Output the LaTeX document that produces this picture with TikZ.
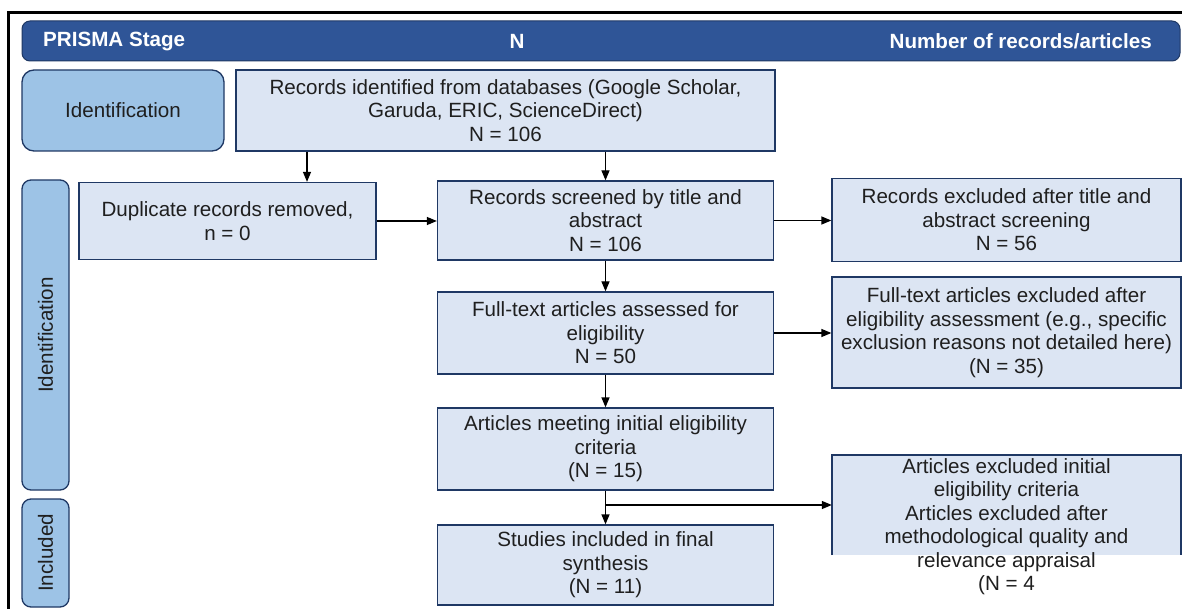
\documentclass[tikz,border=0pt]{standalone}
\usepackage{fontspec}
\setmainfont{Liberation Sans}
\usetikzlibrary{arrows.meta,positioning,calc}
\definecolor{hdrblue}{HTML}{2F5597}
\definecolor{stageblue}{HTML}{9DC3E6}
\definecolor{boxblue}{HTML}{DCE5F3}
\definecolor{navy}{HTML}{1F3864}
\newcommand{\fs}{\fontsize{20.6}{23.5}\selectfont}
\tikzset{
  stepbox/.style={draw=navy, line width=1.3pt, fill=boxblue, align=center, font=\fs, text=black!88, inner sep=0pt},
  stagebox/.style={draw=navy, line width=1.3pt, fill=stageblue, align=center, font=\fs, text=black!88, inner sep=0pt},
  hdrbar/.style={draw=navy, line width=1pt, fill=hdrblue, rounded corners=8pt, inner sep=0pt},
  hdrtext/.style={font=\fs\bfseries, text=white, inner sep=0pt},
  arr/.style={-{Triangle[length=10pt,width=8pt]}, line width=1.3pt},
}

\begin{document}
\begin{tikzpicture}[x=1pt,y=-1pt]
				%%%%% START %%%%%
				\def\colM{605.5}
				\def\colR{1006.5}
				\def\wM{336pt}
				\def\wR{349pt}
				\useasboundingbox (0,0) rectangle (1182,609);
				\fill[white] (0,0) rectangle (1182,609);
				
				% frame
				\draw[line width=3pt] (8,609) -- (8,13) -- (1182,13);
				
				% header bar
				\node[hdrbar, minimum width=1158pt, minimum height=40pt] (head) at (601,41) {};
				\node[hdrtext, anchor=west] (hstage) at (43,41) {PRISMA Stage};
				\node[hdrtext] (hn) at (517,41) {N};
				\node[hdrtext, anchor=east] (hnum) at (1152,41) {Number of records/articles};
				
				% stage labels
				\node[stagebox, rounded corners=12pt, minimum width=202pt, minimum height=81pt] (ident) at (123,110.5) {Identification};
				\node[stagebox, rounded corners=9pt, minimum width=47pt, minimum height=310pt] (sideid) at (45.5,335) {};
				\node[font=\fs, text=black!88, rotate=90] (sideidt) at (sideid.center) {Identification};
				\node[stagebox, rounded corners=9pt, minimum width=47pt, minimum height=108pt] (sideinc) at (45.5,553) {};
				\node[font=\fs, text=black!88, rotate=90] (sideinct) at (sideinc.center) {Included};
				
				% main column
				\node[stepbox, minimum width=539pt, minimum height=81pt] (rec) at (505.5,110.5) {Records identified from databases (Google Scholar,\\ Garuda, ERIC, ScienceDirect)\\ N = 106};
				\node[stepbox, minimum width=297pt, minimum height=77pt] (dup) at (227.5,221) {Duplicate records removed,\\ n = 0};
				\node[stepbox, minimum width=\wM, minimum height=79pt] (scr) at (\colM,220.5) {Records screened by title and\\ abstract\\ N = 106};
				\node[stepbox, minimum width=\wM, minimum height=82pt] (full) at (\colM,333) {Full-text articles assessed for\\ eligibility\\ N = 50};
				\node[stepbox, minimum width=\wM, minimum height=82pt] (meet) at (\colM,449) {Articles meeting initial eligibility\\ criteria\\ (N = 15)};
				\node[stepbox, minimum width=\wM, minimum height=80pt] (stud) at (\colM,565) {Studies included in final\\ synthesis\\ (N = 11)};
				
				% exclusions
				\node[stepbox, minimum width=\wR, minimum height=83pt] (exc1) at (\colR,220) {Records excluded after title and\\ abstract screening\\ N = 56};
				\node[stepbox, minimum width=\wR, minimum height=111pt] (exc2) at (\colR,332.5) {Full-text articles excluded after\\ eligibility assessment (e.g., specific\\ exclusion reasons not detailed here)\\ (N = 35)};
				\fill[boxblue] (832,455) rectangle (1181,555);
				\draw[navy, line width=1.3pt] (832,555) -- (832,455) -- (1181,455) -- (1181,555);
				\node[align=center, font=\fs, text=black!88, inner sep=0pt, minimum width=\wR] (exc3) at (\colR,526.5) {Articles excluded initial\\ eligibility criteria\\ Articles excluded after\\ methodological quality and\\ relevance appraisal\\ (N = 4};
				
				% connectors
				\coordinate (t1) at (307,0);
				\coordinate (br) at (\colM,505);
				\draw[arr] (rec.south -| t1) -- (dup.north -| t1);
				\draw[arr] (rec.south -| scr.north) -- (scr.north);
				\draw[arr] (dup.east) -- (dup.east -| scr.west);
				\draw[arr] (scr.east) -- (scr.east -| exc1.west);
				\draw[arr] (scr.south) -- (full.north);
				\draw[arr] (full.east) -- (full.east -| exc2.west);
				\draw[arr] (full.south) -- (meet.north);
				\draw[arr] (meet.south) -- (stud.north);
				\draw[arr] (br) -- (br -| exc3.west);
				%%%%% END %%%%%
\end{tikzpicture}
\end{document}
